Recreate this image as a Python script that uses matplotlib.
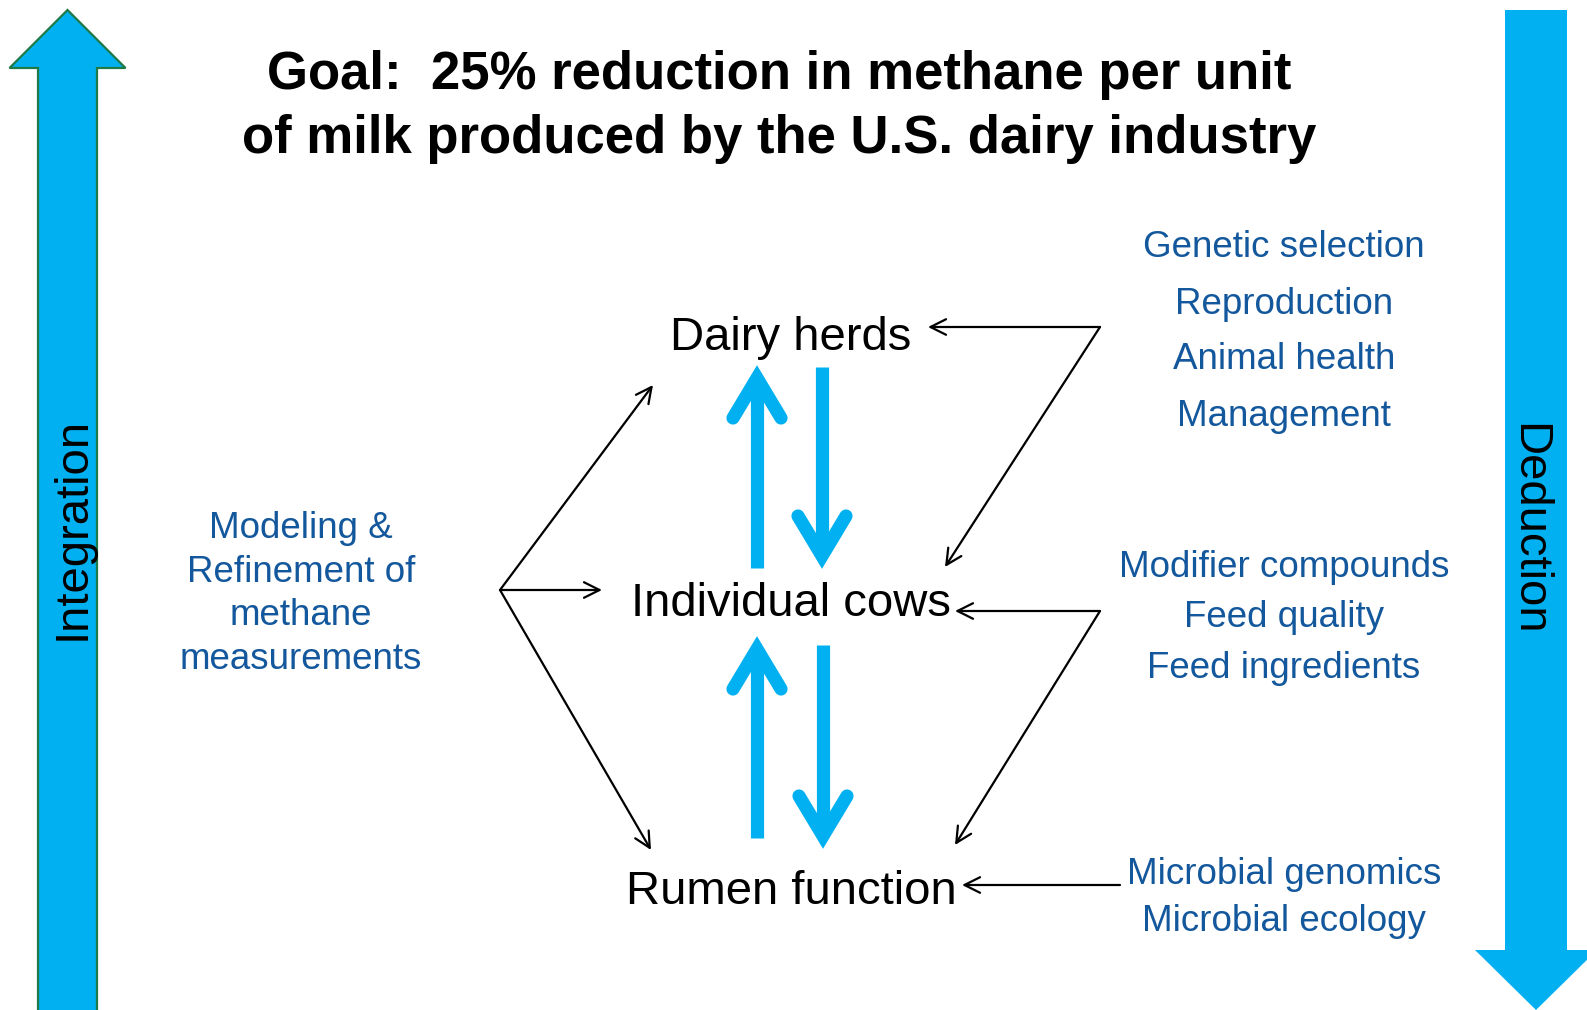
import matplotlib.pyplot as plt
from matplotlib.patches import FancyArrow

plt.rcParams['font.family'] = ['Liberation Sans', 'DejaVu Sans']

# text content
title_lines = ['Goal:  25% reduction in methane per unit',
               'of milk produced by the U.S. dairy industry']
levels = ['Dairy herds', 'Individual cows', 'Rumen function']
herd_factors = ['Genetic selection', 'Reproduction', 'Animal health', 'Management']
cow_factors = ['Modifier compounds', 'Feed quality', 'Feed ingredients']
rumen_factors = ['Microbial genomics', 'Microbial ecology']
modeling_lines = ['Modeling &', 'Refinement of', 'methane', 'measurements']
side_labels = ['Integration', 'Deduction']

# layout (pixel coordinates, y downwards); list texts use baselines
W, H = 1587, 1010
title_y = [75, 139]
level_y = [338, 604, 892]
level_x = 791
factor_x = 1284
herd_y = [257, 314, 369, 426]
cow_y = [577, 627, 678]
rumen_y = [884, 931]
modeling_x = 301
modeling_y = [538, 582, 625, 669]

sky = '#00b0f0'
navy = '#13579c'

fig = plt.figure(figsize=(W / 100, H / 100), dpi=100)
ax = fig.add_axes([0, 0, 1, 1])
ax.set_xlim(0, W)
ax.set_ylim(H, 0)
ax.axis('off')

# big side arrows
ax.add_patch(FancyArrow(67.5, 1012, 0, -1002, width=59, head_width=116,
                        head_length=58, length_includes_head=True,
                        fc=sky, ec='#1f7a48', lw=1.6, zorder=2))
ax.add_patch(FancyArrow(1536, 10, 0, 1000, width=62, head_width=122,
                        head_length=60, length_includes_head=True,
                        fc=sky, ec='none', zorder=2))
ax.text(73, 528, side_labels[0], rotation=90, fontsize=34,
        ha='center', va='center', zorder=3)
ax.text(1528, 529, side_labels[1], rotation=-90, fontsize=34,
        ha='center', va='center', zorder=3)

# title
for s, y in zip(title_lines, title_y):
    ax.text(779, y, s, fontsize=38, fontweight='bold', ha='center', va='center')

# levels
for s, y in zip(levels, level_y):
    ax.text(level_x, y, s, fontsize=34, ha='center', va='center')

# blue lists
for lst, ys in [(herd_factors, herd_y), (cow_factors, cow_y), (rumen_factors, rumen_y)]:
    for s, y in zip(lst, ys):
        ax.text(factor_x, y, s, fontsize=26.5, color=navy, ha='center', va='baseline')
for s, y in zip(modeling_lines, modeling_y):
    ax.text(modeling_x, y, s, fontsize=26.5, color=navy, ha='center', va='baseline')


# thick blue up/down arrows between levels
def blue_arrow(x, y0, y1, wing_dx=24, wing_dy=40):
    # y0 = tail, y1 = outer tip of the head
    d = 1 if y1 > y0 else -1
    tip = y1 - d * 13
    ax.plot([x, x], [y0, tip], color=sky, lw=9.5, solid_capstyle='butt')
    ax.plot([x - wing_dx, x, x + wing_dx], [tip - d * wing_dy, tip, tip - d * wing_dy],
            color=sky, lw=9.5, solid_capstyle='round', solid_joinstyle='miter')


blue_arrow(757, 568, 365)
blue_arrow(822, 367, 569)
blue_arrow(757, 838, 636)
blue_arrow(823, 645, 849)


# thin black arrows
def thin(x0, y0, x1, y1):
    ax.annotate('', xy=(x1, y1), xytext=(x0, y0),
                arrowprops=dict(arrowstyle='->', lw=1.6, color='black',
                                shrinkA=0, shrinkB=0, mutation_scale=28))


thin(1100, 327, 928, 327)
thin(1100, 327, 945, 567)
thin(1100, 611, 955, 611)
thin(1100, 611, 955, 845)
thin(1120, 885, 962, 885)
thin(500, 590, 653, 385)
thin(500, 590, 602, 590)
thin(500, 590, 651, 850)

fig.savefig('out.png', dpi=100)
